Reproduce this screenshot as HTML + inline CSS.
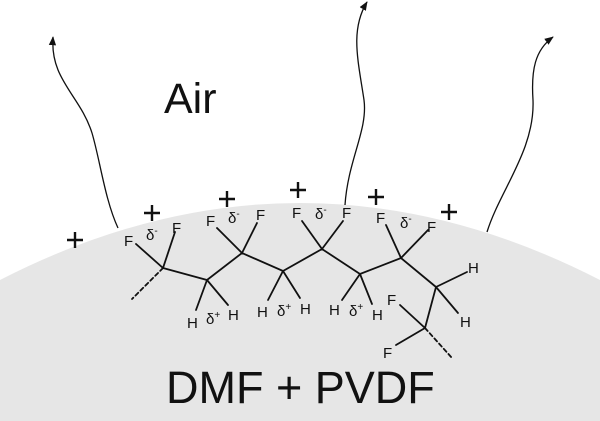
<!DOCTYPE html>
<html><head><meta charset="utf-8"><style>
html,body{margin:0;padding:0;background:#fff;width:600px;height:421px;overflow:hidden}
svg{display:block}
text{font-family:"Liberation Sans","DejaVu Sans",sans-serif;fill:#111}
</style></head><body>
<svg width="600" height="421" viewBox="0 0 600 421" xmlns="http://www.w3.org/2000/svg">
<defs><marker id="ar" viewBox="0 0 10 10" refX="9" refY="5" markerWidth="7" markerHeight="7" orient="auto"><path d="M0,1 L10,5 L0,9 z" fill="#111"/></marker></defs>
<path d="M0,280 Q300,126 600,280 L600,421 L0,421 Z" fill="#e6e6e6"/>
<g fill="none" stroke="#111" stroke-width="1.3">
<path d="M118,228 C105,200 100,160 92,133 C80,95 50,80 53,37" marker-end="url(#ar)"/>
<path d="M345,205 C348,160 368,130 364,100 C358,60 350,30 367,2" marker-end="url(#ar)"/>
<path d="M487,232 C500,190 535,150 533,100 C531,70 535,50 553,37" marker-end="url(#ar)"/>
</g>
<g stroke="#111" stroke-width="1.8" fill="none" stroke-linecap="round">
<polyline points="163,268 207,280 242,253 283,271 322,249 360,274 401,258 436,287 425,328"/>
<line x1="163" y1="268" x2="136" y2="244"/><line x1="163" y1="268" x2="175" y2="232"/>
<line x1="207" y1="280" x2="196" y2="310"/><line x1="207" y1="280" x2="228" y2="305"/>
<line x1="242" y1="253" x2="217" y2="228"/><line x1="242" y1="253" x2="257" y2="223"/>
<line x1="283" y1="271" x2="268" y2="300"/><line x1="283" y1="271" x2="300" y2="298"/>
<line x1="322" y1="249" x2="302" y2="221"/><line x1="322" y1="249" x2="343" y2="221"/>
<line x1="360" y1="274" x2="342" y2="300"/><line x1="360" y1="274" x2="372" y2="304"/>
<line x1="401" y1="258" x2="386" y2="225"/><line x1="401" y1="258" x2="428" y2="230"/>
<line x1="436" y1="287" x2="467" y2="272"/><line x1="436" y1="287" x2="458" y2="313"/>
<line x1="425" y1="328" x2="400" y2="305"/><line x1="425" y1="328" x2="396" y2="345"/>
<line x1="163" y1="268" x2="132" y2="299" stroke-dasharray="4,3"/>
<line x1="425" y1="328" x2="452" y2="358" stroke-dasharray="4,3"/>
</g>
<g font-size="15">
<text x="124" y="246">F</text><text x="172" y="233">F</text><text x="146" y="240">δ<tspan font-size="10" dy="-6">-</tspan></text>
<text x="206" y="226">F</text><text x="256" y="220">F</text><text x="228" y="223">δ<tspan font-size="10" dy="-6">-</tspan></text>
<text x="292" y="218">F</text><text x="342" y="218">F</text><text x="315" y="219">δ<tspan font-size="10" dy="-6">-</tspan></text>
<text x="376" y="223">F</text><text x="427" y="232">F</text><text x="400" y="228">δ<tspan font-size="10" dy="-6">-</tspan></text>
<text x="187" y="328">H</text><text x="228" y="320">H</text><text x="206" y="324">δ<tspan font-size="10" dy="-6">+</tspan></text>
<text x="257" y="317">H</text><text x="300" y="314">H</text><text x="277" y="316">δ<tspan font-size="10" dy="-6">+</tspan></text>
<text x="329" y="315">H</text><text x="372" y="320">H</text><text x="349" y="316">δ<tspan font-size="10" dy="-6">+</tspan></text>
<text x="468" y="273">H</text><text x="460" y="327">H</text>
<text x="387" y="305">F</text><text x="383" y="358">F</text>
</g>
<g stroke="#111" stroke-width="2.4">
<path d="M67,240h16M75,232v16"/>
<path d="M144,213h16M152,205v16"/>
<path d="M219,199h16M227,191v16"/>
<path d="M290,190h16M298,182v16"/>
<path d="M368,197h16M376,189v16"/>
<path d="M441,212h16M449,204v16"/>
</g>
<text x="164" y="113" font-size="43">Air</text>
<text x="166" y="403" font-size="45">DMF + PVDF</text>
</svg>
</body></html>
